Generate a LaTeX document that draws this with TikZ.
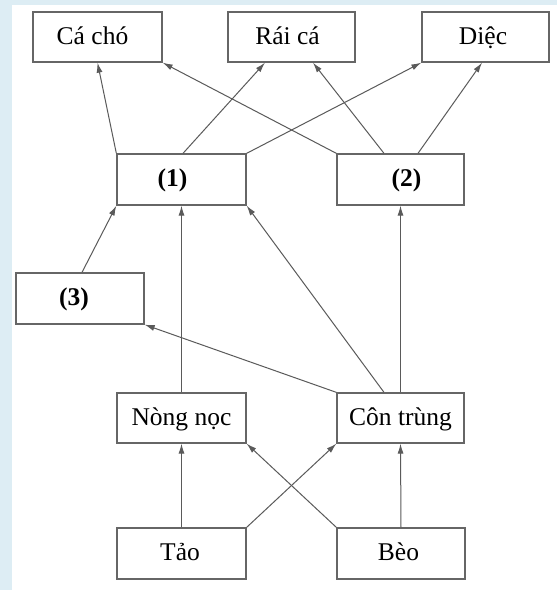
\documentclass[tikz,border=0pt]{standalone}
\usepackage{fontspec}
\setmainfont{Liberation Serif}
\usetikzlibrary{arrows.meta}
\definecolor{bgblue}{HTML}{DDEDF4}
\definecolor{linegray}{HTML}{5A5A5A}
\definecolor{boxgray}{HTML}{666666}
\newcommand\shx[2]{\hspace*{#1}#2}
\begin{document}
\begin{tikzpicture}[x=1pt,y=-1pt,
  box/.style={draw=boxgray,line width=1.3pt,fill=white,inner sep=0pt,text height=14pt,text depth=0pt,font=\fontsize{25.5}{30}\selectfont},
  arr/.style={draw=linegray,line width=1pt,-{Latex[length=10pt,width=6pt]}}]
\fill[bgblue] (0,0) rectangle (557,590);
\fill[white] (12,5) rectangle (557,590);
\useasboundingbox (0,0) rectangle (557,590);
\node[box,minimum width=129pt,minimum height=50pt] (ca) at (97.5,37) {\shx{-10pt}{Cá chó}};
\node[box,minimum width=127pt,minimum height=50pt] (rai) at (291.5,37) {\shx{-8pt}{Rái cá}};
\node[box,minimum width=127pt,minimum height=50pt] (diec) at (485.5,37) {\shx{-5pt}{Diệc}};
\node[box,minimum width=129pt,minimum height=51pt] (n1) at (181.5,179.5) {\shx{-18pt}{\textbf{(1)}}};
\node[box,minimum width=127pt,minimum height=51pt] (n2) at (400.5,179.5) {\shx{12pt}{\textbf{(2)}}};
\node[box,minimum width=128pt,minimum height=51pt] (n3) at (80,298.5) {\shx{-12pt}{\textbf{(3)}}};
\node[box,minimum width=129pt,minimum height=50pt] (nong) at (181.5,418) {Nòng nọc};
\node[box,minimum width=127pt,minimum height=50pt] (con) at (400.5,418) {Côn trùng};
\node[box,minimum width=129pt,minimum height=51pt] (tao) at (181.5,553.5) {\shx{-3pt}{Tảo}};
\node[box,minimum width=128pt,minimum height=51pt] (beo) at (401,553.5) {\shx{-5pt}{Bèo}};
% (1) outputs
\draw[arr] (n1.north west) -- (ca.south);
\draw[arr] ([xshift=1.5pt]n1.north) -- ([xshift=-26.5pt]rai.south);
\draw[arr] (n1.north east) -- (diec.south west);
% (2) outputs
\draw[arr] (n2.north west) -- (ca.south east);
\draw[arr] ([xshift=-16.5pt]n2.north) -- ([xshift=21.5pt]rai.south);
\draw[arr] ([xshift=17.5pt]n2.north) -- ([xshift=-3.5pt]diec.south);
% into (1)
\draw[arr] ([xshift=2pt]n3.north) -- (n1.south west);
\draw[arr] (nong.north) -- (n1.south);
\draw[arr] ([xshift=-16.5pt]con.north) -- (n1.south east);
% into (2), (3)
\draw[arr] (con.north) -- (n2.south);
\draw[arr] (con.north west) -- (n3.south east);
% bottom
\draw[arr] (tao.north) -- (nong.south);
\draw[arr] (tao.north east) -- (con.south west);
\draw[arr] (beo.north west) -- (nong.south east);
\draw[arr] (beo.north) -- (con.south);
\end{tikzpicture}
\end{document}
